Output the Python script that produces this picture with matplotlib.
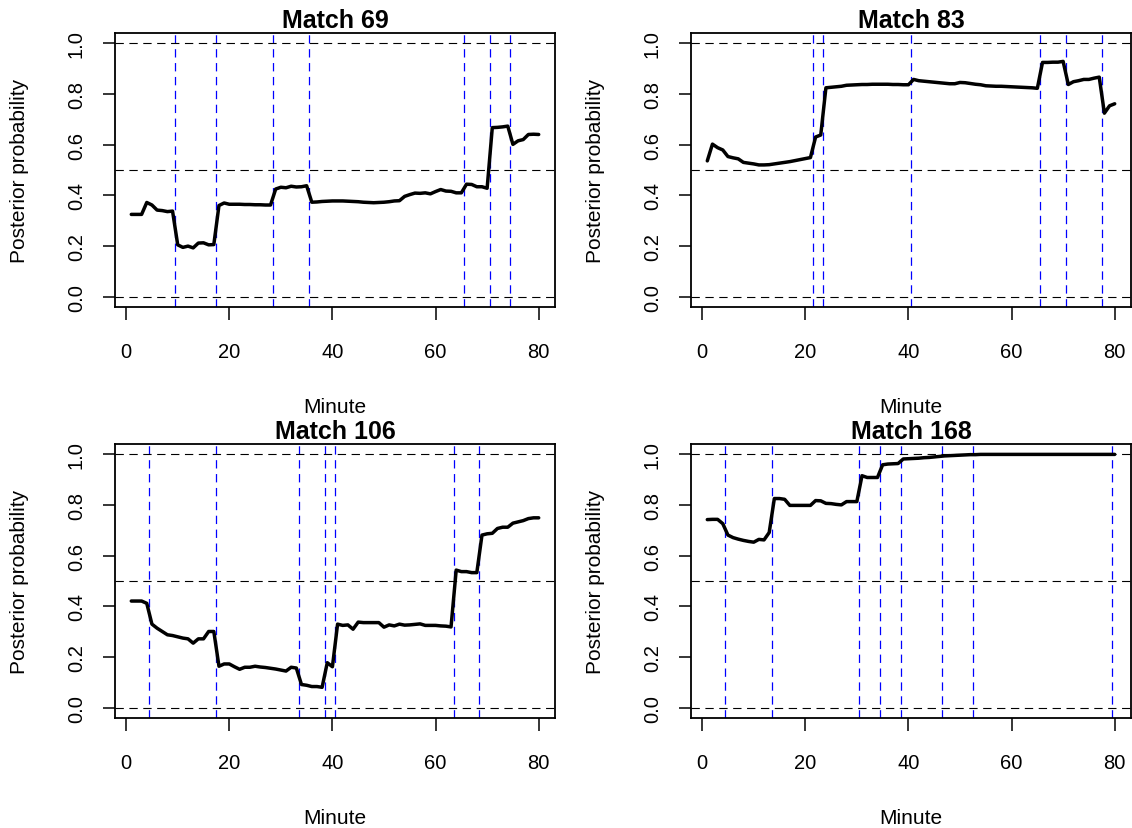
import numpy as np
import matplotlib
matplotlib.use("Agg")
import matplotlib.pyplot as plt

plt.rcParams['font.family'] = ['Liberation Sans', 'DejaVu Sans']
plt.rcParams['lines.scale_dashes'] = False

minutes = np.arange(1, 81)

# posterior probability per minute
match69 = [0.325, 0.325, 0.325, 0.372, 0.362, 0.342, 0.340, 0.336, 0.338, 0.205,
           0.195, 0.200, 0.193, 0.212, 0.213, 0.205, 0.206, 0.360, 0.370, 0.365,
           0.365, 0.365, 0.364, 0.364, 0.363, 0.363, 0.362, 0.362, 0.425, 0.432,
           0.430, 0.436, 0.433, 0.434, 0.438, 0.373, 0.374, 0.376, 0.377, 0.378,
           0.378, 0.378, 0.377, 0.376, 0.375, 0.373, 0.372, 0.371, 0.372, 0.373,
           0.375, 0.378, 0.379, 0.396, 0.403, 0.409, 0.408, 0.410, 0.406, 0.415,
           0.423, 0.417, 0.416, 0.410, 0.410, 0.444, 0.443, 0.434, 0.434, 0.428,
           0.667, 0.668, 0.670, 0.673, 0.601, 0.615, 0.620, 0.640, 0.641, 0.640]

match83 = [0.536, 0.602, 0.588, 0.579, 0.553, 0.548, 0.544, 0.530, 0.527, 0.524,
           0.520, 0.520, 0.521, 0.524, 0.527, 0.530, 0.533, 0.537, 0.541, 0.545,
           0.549, 0.630, 0.638, 0.824, 0.826, 0.828, 0.830, 0.834, 0.835, 0.836,
           0.837, 0.837, 0.838, 0.838, 0.838, 0.838, 0.837, 0.837, 0.836, 0.836,
           0.857, 0.852, 0.850, 0.848, 0.846, 0.844, 0.842, 0.840, 0.840, 0.845,
           0.844, 0.841, 0.838, 0.836, 0.832, 0.831, 0.830, 0.830, 0.829, 0.828,
           0.827, 0.826, 0.825, 0.824, 0.822, 0.924, 0.924, 0.925, 0.925, 0.928,
           0.837, 0.848, 0.852, 0.857, 0.857, 0.862, 0.866, 0.724, 0.753, 0.761]

match106 = [0.421, 0.421, 0.421, 0.412, 0.330, 0.314, 0.301, 0.288, 0.285, 0.280,
            0.275, 0.272, 0.255, 0.272, 0.272, 0.301, 0.301, 0.164, 0.173, 0.173,
            0.162, 0.152, 0.160, 0.160, 0.164, 0.161, 0.159, 0.156, 0.153, 0.149,
            0.145, 0.160, 0.157, 0.092, 0.089, 0.084, 0.084, 0.081, 0.178, 0.162,
            0.330, 0.325, 0.327, 0.310, 0.338, 0.336, 0.336, 0.336, 0.336, 0.318,
            0.327, 0.323, 0.330, 0.326, 0.327, 0.329, 0.331, 0.325, 0.325, 0.325,
            0.323, 0.322, 0.319, 0.543, 0.537, 0.537, 0.533, 0.533, 0.681, 0.686,
            0.688, 0.707, 0.712, 0.712, 0.728, 0.733, 0.738, 0.746, 0.749, 0.749]

match168 = [0.742, 0.743, 0.743, 0.726, 0.681, 0.671, 0.665, 0.660, 0.656, 0.653,
            0.664, 0.662, 0.691, 0.825, 0.825, 0.822, 0.798, 0.798, 0.798, 0.798,
            0.798, 0.817, 0.816, 0.806, 0.805, 0.802, 0.800, 0.813, 0.813, 0.813,
            0.915, 0.908, 0.908, 0.908, 0.958, 0.961, 0.962, 0.963, 0.981, 0.982,
            0.983, 0.984, 0.986, 0.987, 0.989, 0.991, 0.993, 0.994, 0.995, 0.996,
            0.997, 0.998, 0.998, 0.999, 0.999, 0.999, 0.999, 0.999, 0.999, 0.999,
            0.999, 0.999, 0.999, 0.999, 0.999, 0.999, 0.999, 0.999, 0.999, 0.999,
            0.999, 0.999, 0.999, 0.999, 0.999, 0.999, 0.999, 0.999, 0.999, 0.999]

# minutes where goals were scored (vertical markers)
goals69 = [9.5, 17.5, 28.5, 35.5, 65.5, 70.5, 74.5]
goals83 = [21.5, 23.5, 40.5, 65.5, 70.5, 77.5]
goals106 = [4.5, 17.5, 33.5, 38.5, 40.5, 63.5, 68.5]
goals168 = [4.5, 13.5, 30.5, 34.5, 38.5, 46.5, 52.5, 79.5]

titles = ["Match 69", "Match 83", "Match 106", "Match 168"]
series = [match69, match83, match106, match168]
goals = [goals69, goals83, goals106, goals168]

W, H = 1132, 829
fig = plt.figure(figsize=(W / 100, H / 100), dpi=100)

# axes boxes in pixels: left, top
boxes = [(115, 34), (691, 34), (115, 445), (691, 445)]
bw, bh = 440, 274

for i in range(4):
    left, top = boxes[i]
    ax = fig.add_axes([left / W, 1 - (top + bh) / H, bw / W, bh / H])

    for g in goals[i]:
        ax.axvline(g, color='#0000ff', lw=0.9, linestyle=(0, (6, 4)), zorder=1)
    for h in [0, 0.5, 1]:
        ax.axhline(h, color='black', lw=0.8, linestyle=(0, (6, 4)), zorder=1)

    ax.plot(minutes, series[i], color='black', lw=2.5, solid_joinstyle='round',
            solid_capstyle='round', zorder=3)

    ax.set_xlim(-2.16, 83.16)
    ax.set_ylim(-0.04, 1.04)
    ax.set_xticks([0, 20, 40, 60, 80])
    ax.set_yticks([0, 0.2, 0.4, 0.6, 0.8, 1.0])
    ax.set_yticklabels(["0.0", "0.2", "0.4", "0.6", "0.8", "1.0"], rotation=90, va='center')
    ax.tick_params(direction='out', length=9, width=1.1, labelsize=14.5, pad=16)
    ax.tick_params(axis='y', pad=12)
    for s in ax.spines.values():
        s.set_linewidth(1.3)

    ax.set_title(titles[i], fontsize=18, fontweight='bold', pad=4)
    ax.set_xlabel("Minute", fontsize=15)
    ax.set_ylabel("Posterior probability", fontsize=15)
    ax.xaxis.set_label_coords(0.5, -0.33)
    ax.yaxis.set_label_coords(-0.195, 0.5)

fig.savefig("out.png", dpi=100)
